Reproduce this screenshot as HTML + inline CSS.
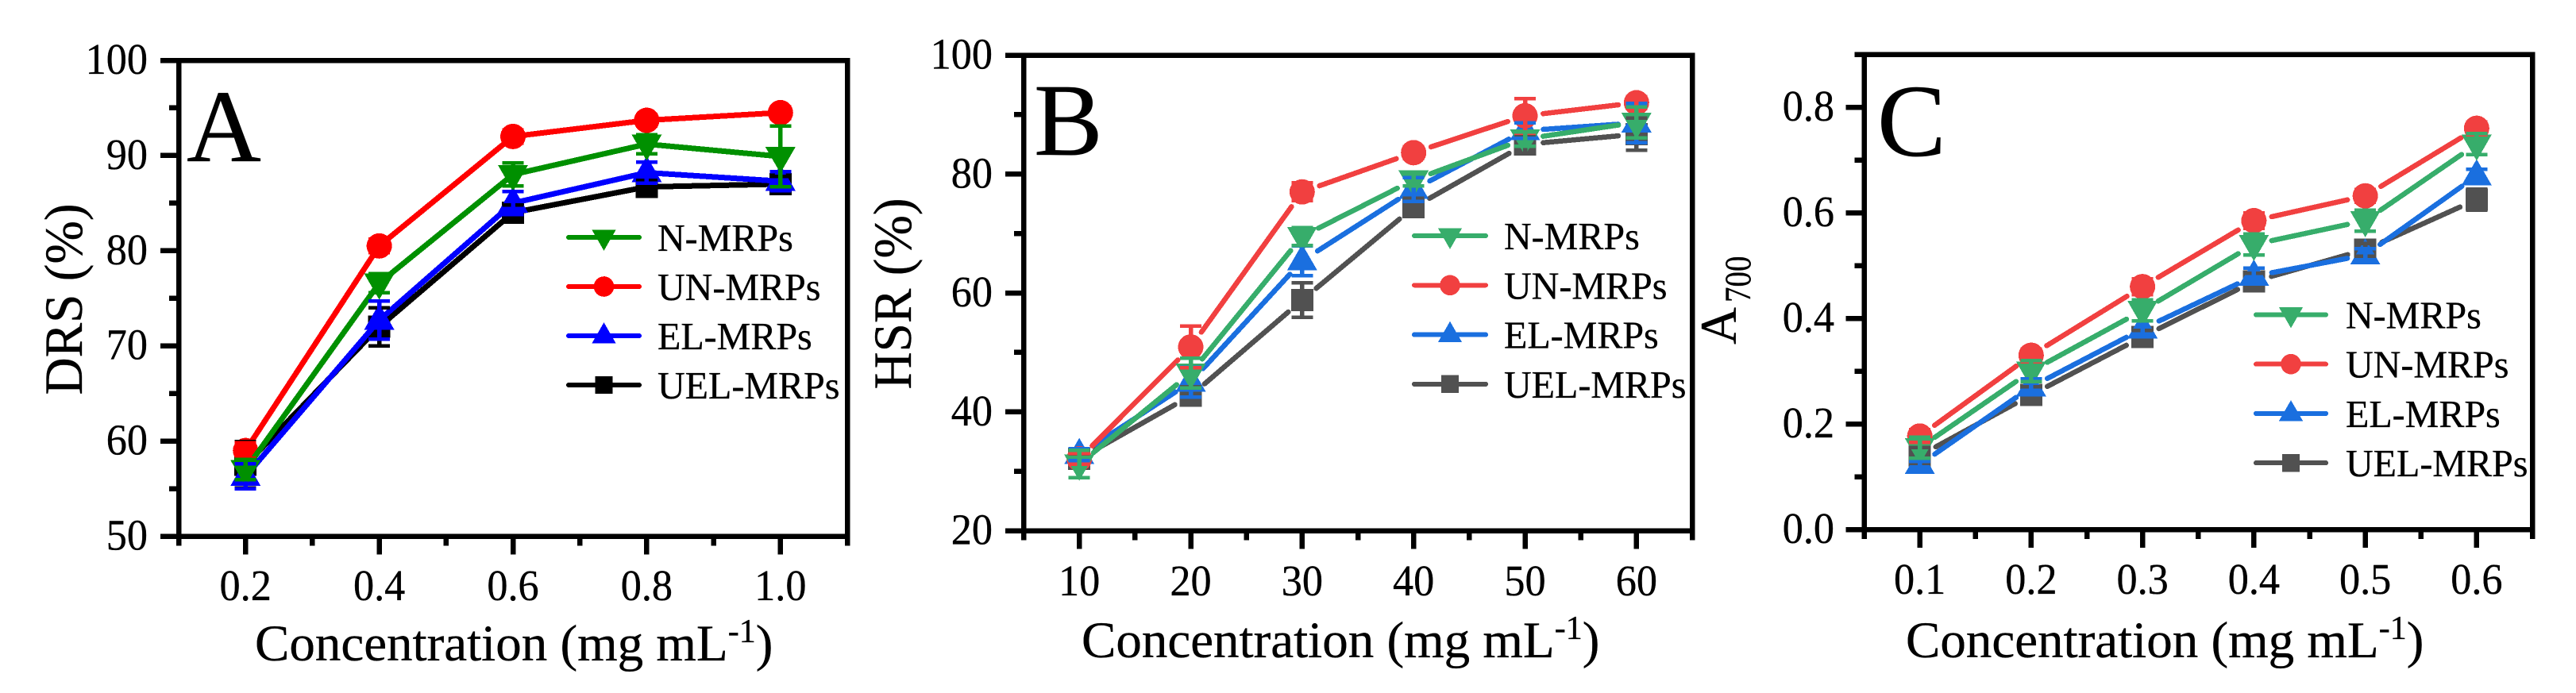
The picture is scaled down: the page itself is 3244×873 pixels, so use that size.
<!DOCTYPE html>
<html lang="en">
<head>
<meta charset="utf-8">
<title>DRS, HSR and A700 versus concentration</title>
<style>
html,body{margin:0;padding:0;background:#fff;}
svg{display:block;font-family:"Liberation Serif",serif;fill:#000;}
svg line,svg rect,svg circle,svg polygon{shape-rendering:crispEdges;}
svg text{stroke:#000;stroke-width:0.35px;}
</style>
</head>
<body>
<svg id="figure" xmlns="http://www.w3.org/2000/svg" width="3244" height="873" viewBox="0 0 3244 873">
  <rect x="0" y="0" width="3244" height="873" fill="#fff"/>
  <g id="panel-a">
    <text x="235" y="203" font-size="130">A</text>
    <text transform="translate(103 377) rotate(-90) scale(0.96 1)" text-anchor="middle" font-size="68">DRS (%)</text>
    <text x="321" y="832" font-size="65">Concentration (mg mL<tspan font-size="42" dy="-23">-1</tspan><tspan dy="23">)</tspan></text>
  </g>
  <g id="panel-b">
    <text x="1302" y="195" font-size="130">B</text>
    <text transform="translate(1147 370) rotate(-90) scale(0.96 1)" text-anchor="middle" font-size="68">HSR (%)</text>
    <text x="1362" y="828" font-size="65">Concentration (mg mL<tspan font-size="42" dy="-23">-1</tspan><tspan dy="23">)</tspan></text>
  </g>
  <g id="panel-c">
    <text x="2364" y="196" font-size="130">C</text>
    <g>
      <text transform="translate(2186 434) rotate(-90)" font-size="65">A</text>
      <text transform="translate(2204 381) rotate(-90) scale(0.83 1)" font-size="47">700</text>
    </g>
    <text x="2400" y="828" font-size="65">Concentration (mg mL<tspan font-size="42" dy="-23">-1</tspan><tspan dy="23">)</tspan></text>
  </g>
</svg>
<script>
// ---- Panel A data ----
const aCategories = [0.2, 0.4, 0.6, 0.8, 1.0];
const aCategoryLabels = ["0.2", "0.4", "0.6", "0.8", "1.0"];
const aYTicks = [50, 60, 70, 80, 90, 100];
const aYTickLabels = ["50", "60", "70", "80", "90", "100"];
const aN = [57, 76.6, 88, 91.2, 89.9];
const aUN = [59, 80.5, 92, 93.7, 94.5];
const aEL = [56.3, 72.7, 85, 88.2, 87.3];
const aUEL = [57.5, 72, 84, 86.7, 87];
const aNErr = [1.05, 1.0, 1.2, 1.0, 3.2];
const aUNErr = [0.8, 0.7, 0.7, 0.6, 0.6];
const aELErr = [1.3, 2.0, 1.2, 1.1, 1.0];
const aUELErr = [2.45, 2.0, 0.8, 0.7, 0.8];

// ---- Panel B data ----
const bCategories = [10, 20, 30, 40, 50, 60];
const bCategoryLabels = ["10", "20", "30", "40", "50", "60"];
const bYTicks = [20, 40, 60, 80, 100];
const bYTickLabels = ["20", "40", "60", "80", "100"];
const bN = [31.2, 46.5, 69.5, 79, 85.9, 88.7];
const bUN = [32.1, 50.9, 77, 83.6, 89.8, 92];
const bEL = [32.8, 45, 65.4, 77.4, 87.3, 88.6];
const bUEL = [32.1, 42.7, 58.8, 74.4, 85, 86.7];
const bNErr = [2.3, 2.5, 1.5, 1, 1.2, 2.6];
const bUNErr = [0.9, 3.5, 1.5, 1, 2.9, 1];
const bELErr = [1, 2.5, 2.5, 2, 1.3, 3.3];
const bUELErr = [0.8, 1.5, 2.9, 1.5, 1.5, 2.7];

// ---- Panel C data ----
const cCategories = [0.1, 0.2, 0.3, 0.4, 0.5, 0.6];
const cCategoryLabels = ["0.1", "0.2", "0.3", "0.4", "0.5", "0.6"];
const cYTicks = [0, 0.2, 0.4, 0.6, 0.8];
const cYTickLabels = ["0.0", "0.2", "0.4", "0.6", "0.8"];
const cN = [0.155, 0.30, 0.415, 0.54, 0.585, 0.73];
const cUN = [0.177, 0.33, 0.46, 0.585, 0.632, 0.76];
const cEL = [0.123, 0.27, 0.38, 0.48, 0.52, 0.67];
const cUEL = [0.14, 0.255, 0.365, 0.47, 0.53, 0.625];
const cNErr = [0.02, 0.02, 0.02, 0.02, 0.02, 0.02];
const cUNErr = [0.012, 0.012, 0.015, 0.015, 0.012, 0.012];
const cELErr = [0.006, 0.015, 0.015, 0.015, 0.012, 0.012];
const cUELErr = [0.015, 0.015, 0.012, 0.015, 0.012, 0.02];

const legendLabels = ["N-MRPs", "UN-MRPs", "EL-MRPs", "UEL-MRPs"];

const SVGNS = "http://www.w3.org/2000/svg";
const TICK_FONT = 55;
const TICK_SQUEEZE = 0.95;

function makeShape(parent, tag, attrs, name, interactable) {
  const el = document.createElementNS(SVGNS, tag);
  for (const k in attrs) el.setAttribute(k, attrs[k]);
  
  
  parent.appendChild(el);
  return el;
}

function makeLabel(parent, x, y, str, size, anchor, squeeze, name) {
  const el = document.createElementNS(SVGNS, 'text');
  el.setAttribute('transform', 'translate(' + x + ' ' + y + ') scale(' + squeeze + ' 1)');
  el.setAttribute('font-size', size);
  el.setAttribute('text-anchor', anchor);
  el.textContent = str;
  
  
  parent.appendChild(el);
  return el;
}

function drawMarker(parent, kind, cx, cy, s, color, name) {
  // s scales the symbol: 1 = plotted point, smaller for the legend
  if (kind === 'circle') {
    return makeShape(parent, 'circle', {cx: cx, cy: cy, r: 16 * s, fill: color}, name, false);
  }
  if (kind === 'square') {
    return makeShape(parent, 'rect', {x: cx - 14 * s, y: cy - 14 * s, width: 28 * s, height: 28 * s, fill: color}, name, false);
  }
  const w = 19 * s, near = 12 * s, far = 21 * s;
  const pts = kind === 'down'
    ? [[cx - w, cy - near], [cx + w, cy - near], [cx, cy + far]]
    : [[cx - w, cy + near], [cx + w, cy + near], [cx, cy - far]];
  return makeShape(parent, 'polygon', {points: pts.map(p => p.join(',')).join(' '), fill: color}, name, false);
}

function drawPanel(cfg) {
  const g = document.getElementById(cfg.id);
  const xScale = v => cfg.left + (v - cfg.xMin) / (cfg.xMax - cfg.xMin) * (cfg.right - cfg.left);
  const yScale = v => cfg.bottom - (v - cfg.yMin) / (cfg.yMax - cfg.yMin) * (cfg.bottom - cfg.top);

  // spines
  makeShape(g, 'rect', {x: cfg.left, y: cfg.top, width: cfg.right - cfg.left, height: cfg.bottom - cfg.top, fill: 'none', stroke: '#000', 'stroke-width': 6.5}, cfg.prefix + '-plot-frame', false);

  // x ticks + minor ticks
  const xStep = cfg.categories[1] - cfg.categories[0];
  cfg.categories.forEach((v, i) => {
    const x = xScale(v);
    makeShape(g, 'line', {x1: x, x2: x, y1: cfg.bottom, y2: cfg.bottom + 23, stroke: '#000', 'stroke-width': 6.5}, cfg.prefix + '-x-tick', false);
    makeLabel(g, x, cfg.xLabelY, cfg.categoryLabels[i], TICK_FONT, 'middle', TICK_SQUEEZE, cfg.prefix + '-x-tick-label');
  });
  [cfg.xMin].concat(cfg.categories.map(v => v + xStep / 2)).forEach(v => {
    const x = xScale(v);
    makeShape(g, 'line', {x1: x, x2: x, y1: cfg.bottom, y2: cfg.bottom + 12, stroke: '#000', 'stroke-width': 6.5}, cfg.prefix + '-x-minor-tick', false);
  });

  // y ticks + minor ticks
  const yStep = cfg.yTicks[1] - cfg.yTicks[0];
  cfg.yTicks.forEach((v, i) => {
    const y = yScale(v);
    makeShape(g, 'line', {x1: cfg.left, x2: cfg.left - 23, y1: y, y2: y, stroke: '#000', 'stroke-width': 6.5}, cfg.prefix + '-y-tick', false);
    makeLabel(g, cfg.yLabelX, y + 17, cfg.yTickLabels[i], TICK_FONT, 'end', TICK_SQUEEZE, cfg.prefix + '-y-tick-label');
    const m = v + yStep / 2;
    if (m <= cfg.yMax) {
      const ym = yScale(m);
      makeShape(g, 'line', {x1: cfg.left, x2: cfg.left - 12, y1: ym, y2: ym, stroke: '#000', 'stroke-width': 6.5}, cfg.prefix + '-y-minor-tick', false);
    }
  });

  // connecting lines and symbols
  cfg.series.forEach(s => {
    const pts = s.values.map((v, i) => [xScale(cfg.categories[i]), yScale(v)]);
    for (let i = 0; i < pts.length - 1; i++) {
      const a = pts[i], b = pts[i + 1];
      const len = Math.hypot(b[0] - a[0], b[1] - a[1]);
      const ux = (b[0] - a[0]) / len, uy = (b[1] - a[1]) / len;
      if (len <= cfg.gap * 2) continue;
      makeShape(g, 'line', {
        x1: a[0] + ux * cfg.gap, y1: a[1] + uy * cfg.gap,
        x2: b[0] - ux * cfg.gap, y2: b[1] - uy * cfg.gap,
        stroke: s.color, 'stroke-width': cfg.lineWidth, 'stroke-linecap': 'round'
      }, cfg.prefix + '-' + s.key + '-line', false);
    }
    pts.forEach(p => {
      drawMarker(g, s.marker, p[0], p[1], 1, s.color, cfg.prefix + '-' + s.key + '-point');
    });
  });

  // error bars sit above all the symbols
  cfg.series.forEach(s => {
    s.values.forEach((v, i) => {
      const x = xScale(cfg.categories[i]);
      const hi = yScale(v + s.errors[i]), lo = yScale(v - s.errors[i]);
      makeShape(g, 'line', {x1: x, x2: x, y1: hi, y2: lo, stroke: s.color, 'stroke-width': 5.5}, cfg.prefix + '-' + s.key + '-error-bar', false);
      makeShape(g, 'line', {x1: x - 13.5, x2: x + 13.5, y1: hi, y2: hi, stroke: s.color, 'stroke-width': 4.5}, cfg.prefix + '-' + s.key + '-error-cap', false);
      makeShape(g, 'line', {x1: x - 13.5, x2: x + 13.5, y1: lo, y2: lo, stroke: s.color, 'stroke-width': 4.5}, cfg.prefix + '-' + s.key + '-error-cap', false);
    });
  });

  // legend, listed N, UN, EL, UEL
  const lg = makeShape(g, 'g', {}, cfg.prefix + '-legend', false);
  cfg.legendOrder.forEach((s, i) => {
    const y = cfg.legendY + i * cfg.legendStep;
    makeShape(lg, 'line', {x1: cfg.legendX1, x2: cfg.legendX2, y1: y, y2: y, stroke: s.color, 'stroke-width': 6, 'stroke-linecap': 'round'}, cfg.prefix + '-legend-line-' + s.key, false);
    drawMarker(lg, s.marker, (cfg.legendX1 + cfg.legendX2) / 2, y, 0.8, s.color, cfg.prefix + '-legend-symbol-' + s.key);
    makeLabel(lg, cfg.legendTextX, y + 17, legendLabels[i], 49, 'start', 0.98, cfg.prefix + '-legend-label-' + s.key);
  });
}

function seriesSet(n, un, el, uel, nE, unE, elE, uelE, colors) {
  const N = {key: 'n-mrps', values: n, errors: nE, color: colors[0], marker: 'down'};
  const UN = {key: 'un-mrps', values: un, errors: unE, color: colors[1], marker: 'circle'};
  const EL = {key: 'el-mrps', values: el, errors: elE, color: colors[2], marker: 'up'};
  const UEL = {key: 'uel-mrps', values: uel, errors: uelE, color: colors[3], marker: 'square'};
  return {draw: [UEL, EL, UN, N], legend: [N, UN, EL, UEL]};
}

const pureColors = ['#009000', '#ff0000', '#0000ff', '#000000'];
const softColors = ['#37ad6b', '#f14040', '#1a6fdf', '#515151'];

const aSet = seriesSet(aN, aUN, aEL, aUEL, aNErr, aUNErr, aELErr, aUELErr, pureColors);
const bSet = seriesSet(bN, bUN, bEL, bUEL, bNErr, bUNErr, bELErr, bUELErr, softColors);
const cSet = seriesSet(cN, cUN, cEL, cUEL, cNErr, cUNErr, cELErr, cUELErr, softColors);

drawPanel({
  id: 'panel-a', prefix: 'panel-a',
  left: 225, right: 1067, top: 76, bottom: 675.5,
  xMin: 0.1, xMax: 1.1, yMin: 50, yMax: 100,
  categories: aCategories, categoryLabels: aCategoryLabels,
  yTicks: aYTicks, yTickLabels: aYTickLabels,
  xLabelY: 756, yLabelX: 186, gap: 0, lineWidth: 7,
  series: aSet.draw, legendOrder: aSet.legend,
  legendX1: 716, legendX2: 805, legendTextX: 828, legendY: 299, legendStep: 62
});
drawPanel({
  id: 'panel-b', prefix: 'panel-b',
  left: 1289, right: 2131, top: 69.5, bottom: 668.5,
  xMin: 5, xMax: 65, yMin: 20, yMax: 100,
  categories: bCategories, categoryLabels: bCategoryLabels,
  yTicks: bYTicks, yTickLabels: bYTickLabels,
  xLabelY: 750, yLabelX: 1250, gap: 23, lineWidth: 6.5,
  series: bSet.draw, legendOrder: bSet.legend,
  legendX1: 1781, legendX2: 1871, legendTextX: 1894, legendY: 297, legendStep: 62.3
});
drawPanel({
  id: 'panel-c', prefix: 'panel-c',
  left: 2347.5, right: 3189, top: 68.5, bottom: 667,
  xMin: 0.05, xMax: 0.65, yMin: 0, yMax: 0.9,
  categories: cCategories, categoryLabels: cCategoryLabels,
  yTicks: cYTicks, yTickLabels: cYTickLabels,
  xLabelY: 748, yLabelX: 2310, gap: 23, lineWidth: 6.5,
  series: cSet.draw, legendOrder: cSet.legend,
  legendX1: 2841, legendX2: 2929, legendTextX: 2954, legendY: 396.5, legendStep: 62.2
});
</script>
</body>
</html>
